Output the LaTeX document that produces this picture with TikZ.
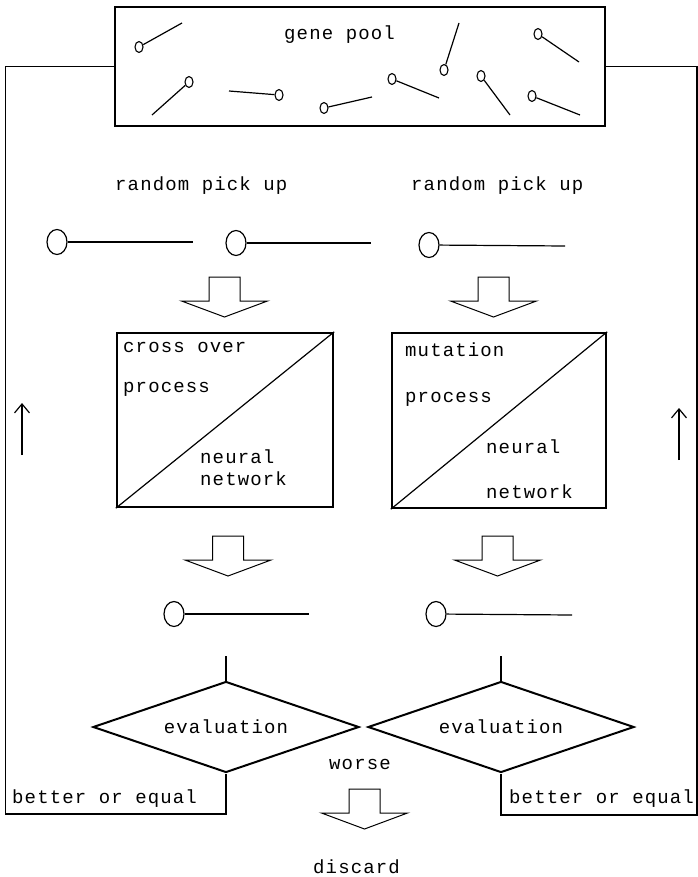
\documentclass[tikz,border=0pt]{standalone}
\usepackage{fontspec}
\setmainfont{Liberation Mono}[LetterSpace=6]
\usetikzlibrary{shapes.geometric,arrows.meta}
\tikzset{
  thinline/.style={line width=1.2pt},
  boxed/.style={draw, line width=2.4pt, inner sep=0pt},
  pinbig/.style={draw, ellipse, line width=1.2pt, minimum width=20pt, minimum height=25pt, inner sep=0pt},
  pinsmall/.style={draw, ellipse, line width=1.1pt, minimum width=8pt, minimum height=11pt, inner sep=0pt},
  lbl/.style={anchor=base west, inner sep=0pt, font=\fontsize{19}{22}\selectfont},
  evalbox/.style={draw, diamond, aspect=2.92, minimum width=266pt, minimum height=91pt, line width=2pt, inner sep=0pt, font=\fontsize{19}{22}\selectfont},
  uparrow/.style={line width=1.2pt, -{Straight Barb[length=9pt,width=15pt,line width=1.2pt]}},
  pics/blockarr/.style={code={\draw[line width=1pt] (-15.5,0) -- (-15.5,24) -- (-43,24) -- (0,40) -- (43,24) -- (15.5,24) -- (15.5,0) -- cycle;}},
}
\begin{document}
\begin{tikzpicture}[x=1pt,y=-1pt]
\useasboundingbox (0,0) rectangle (697,877);

% gene pool
\node[boxed, minimum width=490pt, minimum height=119pt] (pool) at (360,66.5) {};
\node[lbl] (pooltxt) at (284,40) {gene pool};
\node[pinsmall] (g1) at (139,47) {};
\node[pinsmall] (g2) at (189,82) {};
\node[pinsmall] (g3) at (279,95) {};
\node[pinsmall] (g4) at (324,108) {};
\node[pinsmall] (g5) at (392,79) {};
\node[pinsmall] (g6) at (444,70) {};
\node[pinsmall] (g7) at (481,76) {};
\node[pinsmall] (g8) at (538,34) {};
\node[pinsmall] (g9) at (532,96) {};
\draw[thinline] (g1) -- (182,23);
\draw[thinline] (g2) -- (152,115);
\draw[thinline] (g3) -- (229,91);
\draw[thinline] (g4) -- (372,97);
\draw[thinline] (g5) -- (439,98);
\draw[thinline] (g6) -- (459,23);
\draw[thinline] (g7) -- (510,115);
\draw[thinline] (g8) -- (579,62);
\draw[thinline] (g9) -- (580,115);

% random pick up
\node[lbl] (rp1) at (115,191) {random pick up};
\node[lbl] (rp2) at (411,191) {random pick up};
\node[pinbig] (pA) at (57,242) {};
\node[pinbig] (pB) at (236,243) {};
\node[pinbig] (pC) at (429,245) {};
\coordinate (eA) at (193,242);
\coordinate (eB) at (371,243);
\coordinate (eC) at (565,246);
\draw[thinline] (pA) -- (eA);
\draw[thinline] (pB) -- (eB);
\draw[thinline] (pC) -- (eC);

\pic at (224.5,277) {blockarr};
\pic at (493.5,277) {blockarr};

% process boxes
\node[boxed, minimum width=216pt, minimum height=174pt] (b1) at (225,420) {};
\node[boxed, minimum width=214pt, minimum height=175pt] (b2) at (499,420.5) {};
\draw[thinline] (b1.south west) -- (b1.north east);
\draw[thinline] (b2.south west) -- (b2.north east);
\node[lbl] (t1a) at (123,352) {cross over};
\node[lbl] (t1b) at (123,392) {process};
\node[lbl] (t1c) at (200,463) {neural};
\node[lbl] (t1d) at (200,485) {network};
\node[lbl] (t2a) at (405,356) {mutation};
\node[lbl] (t2b) at (405,402) {process};
\node[lbl] (t2c) at (486,453) {neural};
\node[lbl] (t2d) at (486,498) {network};

\pic at (228,536) {blockarr};
\pic at (497.5,536) {blockarr};

% offspring
\node[pinbig] (pD) at (174,614) {};
\node[pinbig] (pE) at (436,614) {};
\coordinate (eD) at (309,614);
\coordinate (eE) at (572,615);
\draw[thinline] (pD) -- (eD);
\draw[thinline] (pE) -- (eE);

% evaluation
\node[evalbox] (d1) at (226,727) {evaluation};
\node[evalbox] (d2) at (501,727) {evaluation};
\coordinate (s1) at (226,656);
\coordinate (s2) at (501,656);
\draw[thinline] (s1) -- (d1.north);
\draw[thinline] (s2) -- (d2.north);

\node[lbl] (worse) at (329,769) {worse};
\pic at (364.5,789) {blockarr};
\node[lbl] (discard) at (313,873) {discard};

\node[lbl] (be1) at (12,803) {better or equal};
\node[lbl] (be2) at (509,803) {better or equal};

% feedback loops
\coordinate (lc) at (5.5,814);
\coordinate (rc) at (697,815);
\draw[thinline] (pool.west) -| (lc) -| (d1.south);
\draw[thinline] (pool.east) -| (rc) -| (d2.south);

\coordinate (ul0) at (22,455);
\coordinate (ul1) at (22,403);
\coordinate (ur0) at (679,460);
\coordinate (ur1) at (679,408);
\draw[uparrow] (ul0) -- (ul1);
\draw[uparrow] (ur0) -- (ur1);
\end{tikzpicture}
\end{document}
